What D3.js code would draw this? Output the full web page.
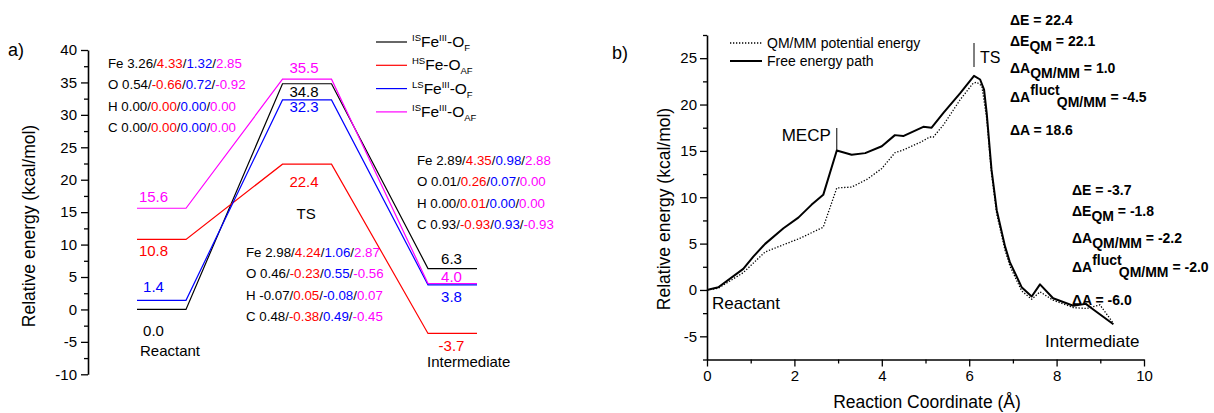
<!DOCTYPE html>
<html>
<head>
<meta charset="utf-8">
<script src="https://cdn.jsdelivr.net/npm/d3@7"></script>
<style>
  body { margin: 0; background: #fff; }
  svg { display: block; }
</style>
</head>
<body>
<div id="chart"></div>
<script>
// ---------- data, panel a ----------
const states = ["Reactant", "TS", "Intermediate"];
const seriesColors = ["#000000", "#ff0000", "#0000ff", "#ff00ff"];
const isFeOF = [0.0, 34.8, 6.3];
const hsFeOAF = [10.8, 22.4, -3.7];
const lsFeOF = [1.4, 32.3, 3.8];
const isFeOAF = [15.6, 35.5, 4.0];
const leftTicks = [-10, -5, 0, 5, 10, 15, 20, 25, 30, 35, 40];

const spinAtoms = ["Fe", "O", "H", "C"];
const spinReactant = [["3.26", "4.33", "1.32", "2.85"], ["0.54", "-0.66", "0.72", "-0.92"],
  ["0.00", "0.00", "0.00", "0.00"], ["0.00", "0.00", "0.00", "0.00"]];
const spinTS = [["2.98", "4.24", "1.06", "2.87"], ["0.46", "-0.23", "0.55", "-0.56"],
  ["-0.07", "0.05", "-0.08", "0.07"], ["0.48", "-0.38", "0.49", "-0.45"]];
const spinInt = [["2.89", "4.35", "0.98", "2.88"], ["0.01", "0.26", "0.07", "0.00"],
  ["0.00", "0.01", "0.00", "0.00"], ["0.93", "-0.93", "0.93", "-0.93"]];

// ---------- data, panel b ----------
const freeX = [0, 0.26, 0.83, 1.06, 1.33, 1.75, 2.09, 2.39, 2.66, 2.97, 3.31, 3.62, 4.0, 4.30, 4.49,
  4.95, 5.14, 5.41, 5.79, 6.11, 6.25, 6.34, 6.40, 6.51, 6.63, 6.82, 6.93, 7.20, 7.43, 7.62, 7.92,
  8.38, 8.67, 8.84, 9.30];
const freeY = [0, 0.29, 2.27, 3.6, 4.97, 6.66, 7.8, 9.18, 10.26, 15.04, 14.58, 14.76, 15.5, 16.7, 16.6,
  17.6, 17.5, 19.1, 21.2, 23.1, 22.7, 21.6, 19.1, 13.0, 8.6, 4.7, 3.0, 0.3, -0.7, 0.6, -0.9,
  -1.7, -1.5, -2.1, -3.7];
const qmmmX = [0, 0.26, 0.83, 1.33, 2.13, 2.66, 2.97, 3.31, 3.65, 4.0, 4.30, 4.49, 4.87, 5.10, 5.18,
  5.41, 5.79, 6.09, 6.17, 6.29, 6.40, 6.51, 6.63, 6.82, 6.93, 7.20, 7.43, 7.62, 7.92, 8.38, 8.69,
  8.99, 9.30];
const qmmmY = [0, 0.2, 1.87, 4.1, 5.58, 6.77, 11.0, 11.1, 11.9, 13.1, 14.8, 15.1, 15.9, 16.5, 16.5,
  17.8, 20.5, 22.3, 22.4, 22.0, 18.5, 12.6, 8.2, 4.3, 2.6, -0.1, -1.0, -0.2, -1.1, -1.9, -2.0,
  -1.6, -3.6];
const rightXTicks = [0, 2, 4, 6, 8, 10];
const rightYTicks = [-5, 0, 5, 10, 15, 20, 25];
const tsValues = ["22.4", "22.1", "1.0", "-4.5", "18.6"];
const intValues = ["-3.7", "-1.8", "-2.2", "-2.0", "-6.0"];

const FONT = "'Liberation Sans', Arial, Helvetica, sans-serif";
const W = 1214, H = 413;

const svg = d3.select("#chart").append("svg")
  .attr("width", W).attr("height", H)
  .style("font-family", FONT);
svg.append("rect").attr("width", W).attr("height", H).attr("fill", "#fff");

// text with sup/sub parts
const rich = (sel, x, y, segs, size, opts = {}) => {
  const t = sel.append("text").attr("x", x).attr("y", y)
    .attr("font-size", size).attr("fill", opts.fill || "#000");
  if (opts.bold) t.attr("font-weight", "bold");
  let cur = 0;
  segs.forEach(s => {
    const shift = s.sup ? -(opts.supUp || size * 0.45) : s.sub ? (opts.subDown || size * 0.3) : 0;
    const ts = t.append("tspan").attr("dy", shift - cur).text(s.t);
    if (s.sup || s.sub) ts.attr("font-size", opts.small || size * 0.62);
    if (s.dx) ts.attr("dx", s.dx);
    if (s.fill) ts.attr("fill", s.fill);
    cur = shift;
  });
  return t;
};

// ================= panel a =================
const gA = svg.append("g");
const yL = d3.scaleLinear().domain([-10, 40]).range([374.3, 50]);
const xL = d3.scaleLinear().domain([0, 2]).range([161.5, 452.5]);
const hw = 24.5;

gA.append("g").attr("transform", "translate(88,0)")
  .call(d3.axisLeft(yL).tickValues(leftTicks).tickSize(7).tickPadding(4).tickSizeOuter(0)
    .tickFormat(d => String(d)))
  .call(g => g.select(".domain").attr("stroke-width", 1.6))
  .call(g => g.selectAll(".tick line").attr("stroke-width", 1.3))
  .call(g => g.selectAll("text").attr("font-size", 15).attr("font-family", FONT).attr("fill", "#000"));
gA.append("g").attr("transform", "translate(88,0)")
  .call(d3.axisLeft(yL).tickValues(leftTicks.slice(1).map(d => d - 2.5)).tickSize(4).tickFormat(""))
  .call(g => g.select(".domain").remove())
  .call(g => g.selectAll(".tick line").attr("stroke-width", 1.3));

gA.append("text").attr("transform", "translate(35,226) rotate(-90)")
  .attr("text-anchor", "middle").attr("font-size", 17.5).text("Relative energy (kcal/mol)");
gA.append("text").attr("x", 8).attr("y", 56).attr("font-size", 18).text("a)");

const levelSeries = [isFeOF, hsFeOAF, lsFeOF, isFeOAF];
const levelLine = d3.line().x(d => d[0]).y(d => d[1]);
levelSeries.forEach((vals, si) => {
  const pts = [];
  vals.forEach((v, i) => {
    pts.push([xL(i) - hw, yL(v)], [xL(i) + hw, yL(v)]);
  });
  gA.append("path").attr("d", levelLine(pts)).attr("fill", "none")
    .attr("stroke", seriesColors[si]).attr("stroke-width", 1.2);
});

// value labels, offsets so they sit above/below their level like the original
const labelDx = [-8, -3, -1];
const labelDy = [[27, 13.5, -5], [17, 23, 18], [-8, 12.5, 17.5], [-6, -6, -1]];
levelSeries.forEach((vals, si) => {
  vals.forEach((v, i) => {
    gA.append("text").attr("x", xL(i) + labelDx[i]).attr("y", yL(v) + labelDy[si][i])
      .attr("text-anchor", "middle").attr("font-size", 15).attr("fill", seriesColors[si])
      .text(v.toFixed(1));
  });
});

// state names
const stateX = [xL(0) - hw + 3, xL(1) - hw + 14, xL(2) - hw - 1];
const stateY = [356, 219, 367];
states.forEach((s, i) => {
  gA.append("text").attr("x", stateX[i]).attr("y", stateY[i]).attr("font-size", 15).text(s);
});

// spin density blocks
const spinBlock = (rows, x, y0) => {
  rows.forEach((r, k) => {
    const segs = [{ t: spinAtoms[k] + " " + r[0] }];
    for (let j = 1; j < 4; j++) {
      segs.push({ t: "/" }, { t: r[j], fill: seriesColors[j] });
    }
    rich(gA, x, y0 + k * 21.3, segs, 13.3);
  });
};
spinBlock(spinReactant, 108, 68);
spinBlock(spinInt, 417, 165);
spinBlock(spinTS, 246, 257);

// legend
const legendSegs = [
  [{ t: "IS", sup: true }, { t: "Fe" }, { t: "III", sup: true }, { t: "-O" }, { t: "F", sub: true }],
  [{ t: "HS", sup: true }, { t: "Fe-O" }, { t: "AF", sub: true }],
  [{ t: "LS", sup: true }, { t: "Fe" }, { t: "III", sup: true }, { t: "-O" }, { t: "F", sub: true }],
  [{ t: "IS", sup: true }, { t: "Fe" }, { t: "III", sup: true }, { t: "-O" }, { t: "AF", sub: true }]
];
legendSegs.forEach((segs, i) => {
  const y = 42 + i * 23.3;
  gA.append("line").attr("x1", 376).attr("x2", 407).attr("y1", y).attr("y2", y)
    .attr("stroke", seriesColors[i]).attr("stroke-width", 1.2);
  rich(gA, 412, y + 5, segs, 15.5, { small: 9.5, supUp: 6, subDown: 4 });
});

// ================= panel b =================
const gB = svg.append("g");
const xR = d3.scaleLinear().domain([0, 10]).range([707, 1144]);
const yR = d3.scaleLinear().domain([-7.5, 27.5]).range([359.5, 35]);

gB.append("g").attr("transform", "translate(707,0)")
  .call(d3.axisLeft(yR).tickValues(rightYTicks).tickSize(7).tickPadding(3).tickSizeOuter(0)
    .tickFormat(d => String(d)))
  .call(g => g.select(".domain").attr("stroke-width", 1.6))
  .call(g => g.selectAll(".tick line").attr("stroke-width", 1.3))
  .call(g => g.selectAll("text").attr("font-size", 15).attr("font-family", FONT).attr("fill", "#000"));
gB.append("g").attr("transform", "translate(707,0)")
  .call(d3.axisLeft(yR).tickValues([-7.5, -2.5, 2.5, 7.5, 12.5, 17.5, 22.5, 27.5]).tickSize(4).tickFormat(""))
  .call(g => g.select(".domain").remove())
  .call(g => g.selectAll(".tick line").attr("stroke-width", 1.3));
gB.append("g").attr("transform", "translate(0,359.5)")
  .call(d3.axisBottom(xR).tickValues(rightXTicks).tickSize(7).tickPadding(4).tickSizeOuter(0))
  .call(g => g.select(".domain").attr("stroke-width", 1.6))
  .call(g => g.selectAll(".tick line").attr("stroke-width", 1.3))
  .call(g => g.selectAll("text").attr("font-size", 15).attr("font-family", FONT).attr("fill", "#000"));
gB.append("g").attr("transform", "translate(0,359.5)")
  .call(d3.axisBottom(xR).tickValues([1, 3, 5, 7, 9]).tickSize(4).tickFormat(""))
  .call(g => g.select(".domain").remove())
  .call(g => g.selectAll(".tick line").attr("stroke-width", 1.3));

gB.append("text").attr("transform", "translate(670,209) rotate(-90)")
  .attr("text-anchor", "middle").attr("font-size", 17.5).text("Relative energy (kcal/mol)");
gB.append("text").attr("x", 927).attr("y", 408).attr("text-anchor", "middle")
  .attr("font-size", 17.5).text("Reaction Coordinate (Å)");
gB.append("text").attr("x", 612).attr("y", 59).attr("font-size", 18).text("b)");

const curve = d3.line().x(d => xR(d[0])).y(d => yR(d[1]));
gB.append("path").attr("d", curve(d3.zip(qmmmX, qmmmY))).attr("fill", "none")
  .attr("stroke", "#000").attr("stroke-width", 1.3).attr("stroke-dasharray", "1.3,1.7");
gB.append("path").attr("d", curve(d3.zip(freeX, freeY))).attr("fill", "none")
  .attr("stroke", "#000").attr("stroke-width", 2).attr("stroke-linejoin", "round");

// legend
gB.append("line").attr("x1", 730).attr("x2", 762).attr("y1", 43).attr("y2", 43)
  .attr("stroke", "#000").attr("stroke-width", 1.3).attr("stroke-dasharray", "1.3,1.7");
gB.append("text").attr("x", 767).attr("y", 48).attr("font-size", 14).text("QM/MM potential energy");
gB.append("line").attr("x1", 730).attr("x2", 762).attr("y1", 61).attr("y2", 61)
  .attr("stroke", "#000").attr("stroke-width", 2);
gB.append("text").attr("x", 767).attr("y", 66).attr("font-size", 14).text("Free energy path");

// MECP and TS markers
const mecpX = freeX[9], tsX = freeX[19];
gB.append("line").attr("x1", xR(mecpX)).attr("x2", xR(mecpX)).attr("y1", 128).attr("y2", yR(freeY[9]))
  .attr("stroke", "#000").attr("stroke-width", 1);
gB.append("text").attr("x", xR(mecpX) - 6).attr("y", 141).attr("text-anchor", "end")
  .attr("font-size", 17).text("MECP");
gB.append("line").attr("x1", xR(tsX)).attr("x2", xR(tsX)).attr("y1", 43).attr("y2", 67)
  .attr("stroke", "#000").attr("stroke-width", 1);
gB.append("text").attr("x", xR(tsX) + 6).attr("y", 63).attr("font-size", 16).text("TS");

gB.append("text").attr("x", 712).attr("y", 309).attr("font-size", 17).text("Reactant");
gB.append("text").attr("x", 1045).attr("y", 347).attr("font-size", 17).text("Intermediate");

// energy decomposition blocks
const termSegs = [
  [{ t: "ΔE" }],
  [{ t: "ΔE" }, { t: "QM", sub: true }],
  [{ t: "ΔA" }, { t: "QM/MM", sub: true }],
  [{ t: "ΔA" }, { t: "fluct", sup: true }, { t: "QM/MM", sub: true, dx: -3 }],
  [{ t: "ΔA" }]
];
const termDy = [0, 21, 48, 77, 110];
const termBlock = (vals, x, y0) => {
  vals.forEach((v, i) => {
    const segs = termSegs[i].concat([{ t: " = " + v }]);
    rich(gB, x, y0 + termDy[i], segs, 14, { bold: true, small: 14, supUp: 7, subDown: 5 });
  });
};
termBlock(tsValues, 1010, 25);
termBlock(intValues, 1072, 195);
</script>
</body>
</html>
